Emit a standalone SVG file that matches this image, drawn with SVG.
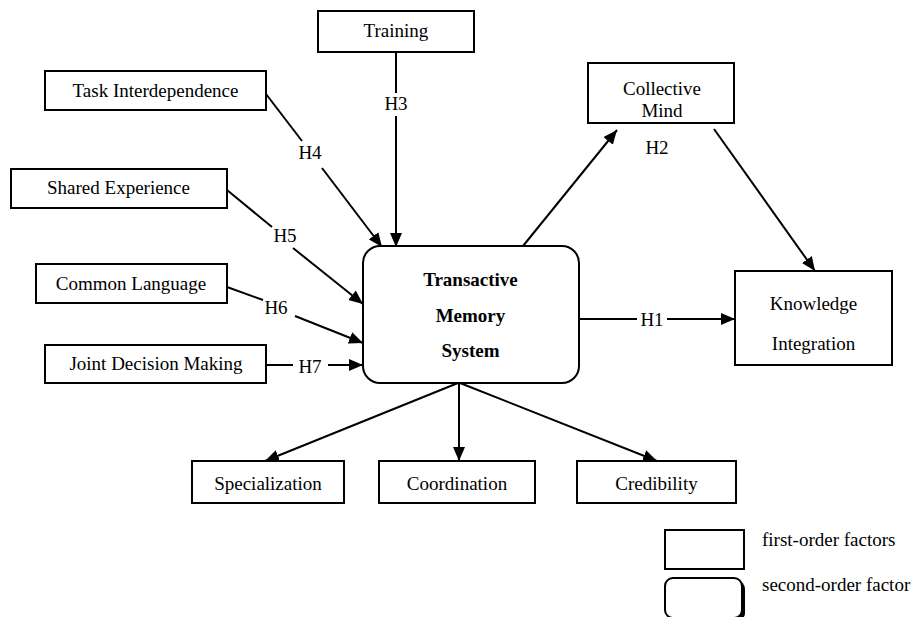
<svg xmlns="http://www.w3.org/2000/svg" width="914" height="617" viewBox="0 0 914 617" font-family="'Liberation Serif', 'Times New Roman', 'DejaVu Serif', serif">
<defs>
<marker id="ah" viewBox="0 0 14 12" refX="14" refY="6" markerWidth="14" markerHeight="12" markerUnits="userSpaceOnUse" orient="auto">
<path d="M0,0 L14,6 L0,12 Z" fill="#000"/>
</marker>
</defs>
<style>
.n{fill:#fff;stroke:#000;stroke-width:2}
text{font-family:'Liberation Serif','Times New Roman','DejaVu Serif',serif;font-size:19px;fill:#000;text-anchor:middle}
.b{font-weight:bold}
.l{text-anchor:start}
.c line{stroke:#000;stroke-width:2}
.a{marker-end:url(#ah)}
</style>
<rect width="914" height="617" fill="#fff"/>
<g class="c" id="connectors">
<line x1="396" y1="52" x2="396" y2="93"/>
<line class="a" x1="396" y1="116" x2="396" y2="247"/>
<line x1="266" y1="94" x2="302" y2="141"/>
<line class="a" x1="322" y1="168" x2="382" y2="247"/>
<line x1="227" y1="190" x2="272" y2="227"/>
<line class="a" x1="293" y1="248" x2="363" y2="304"/>
<line x1="227" y1="287" x2="263" y2="300"/>
<line class="a" x1="295" y1="316" x2="363" y2="343"/>
<line x1="266" y1="365" x2="293" y2="365"/>
<line class="a" x1="328" y1="365" x2="363" y2="365"/>
<line x1="579" y1="319" x2="637" y2="319"/>
<line class="a" x1="667" y1="319" x2="735" y2="319"/>
<line class="a" x1="523" y1="246" x2="617" y2="130"/>
<line class="a" x1="714" y1="129" x2="815" y2="271"/>
<line class="a" x1="458" y1="383" x2="265" y2="461"/>
<line class="a" x1="459" y1="383" x2="459" y2="461"/>
<line class="a" x1="460" y1="383" x2="657" y2="461"/>
<text x="396" y="110">H3</text>
<text x="310" y="159">H4</text>
<text x="285" y="242">H5</text>
<text x="276" y="314">H6</text>
<text x="310" y="373">H7</text>
<text x="652" y="326">H1</text>
<text x="657" y="154">H2</text>
</g>
<g id="training"><rect class="n" x="318" y="11" width="156" height="41"/><text x="396" y="37">Training</text></g>
<g id="task"><rect class="n" x="45" y="71" width="221" height="39"/><text x="155.5" y="97">Task Interdependence</text></g>
<g id="shared"><rect class="n" x="11" y="169" width="216" height="39"/><text x="118.5" y="194">Shared Experience</text></g>
<g id="common"><rect class="n" x="36" y="264" width="191" height="39"/><text x="131" y="290">Common Language</text></g>
<g id="joint"><rect class="n" x="45" y="345" width="221" height="38"/><text x="156" y="370">Joint Decision Making</text></g>
<g id="tms"><rect class="n" x="363" y="246" width="216" height="137" rx="17" ry="17"/>
<text class="b" x="470.5" y="286">Transactive</text>
<text class="b" x="470.5" y="322">Memory</text>
<text class="b" x="470.5" y="357">System</text></g>
<g id="collective"><rect class="n" x="588" y="63" width="146" height="60"/><text x="662" y="95">Collective</text><text x="662" y="117">Mind</text></g>
<g id="knowledge"><rect class="n" x="735" y="271" width="157" height="94"/><text x="813.5" y="310">Knowledge</text><text x="813.5" y="350">Integration</text></g>
<g id="specialization"><rect class="n" x="192" y="461" width="152" height="42"/><text x="268" y="490">Specialization</text></g>
<g id="coordination"><rect class="n" x="379" y="461" width="156" height="42"/><text x="457" y="490">Coordination</text></g>
<g id="credibility"><rect class="n" x="577" y="461" width="159" height="42"/><text x="656.5" y="490">Credibility</text></g>
<g id="legend">
<rect class="n" x="665" y="530" width="79" height="39"/>
<text class="l" x="762" y="546">first-order factors</text>
<rect x="668" y="581" width="77" height="40" rx="8" ry="8" fill="#000"/>
<rect class="n" x="665" y="578" width="77" height="40" rx="8" ry="8"/>
<text class="l" x="762" y="591">second-order factor</text>
</g>
</svg>
